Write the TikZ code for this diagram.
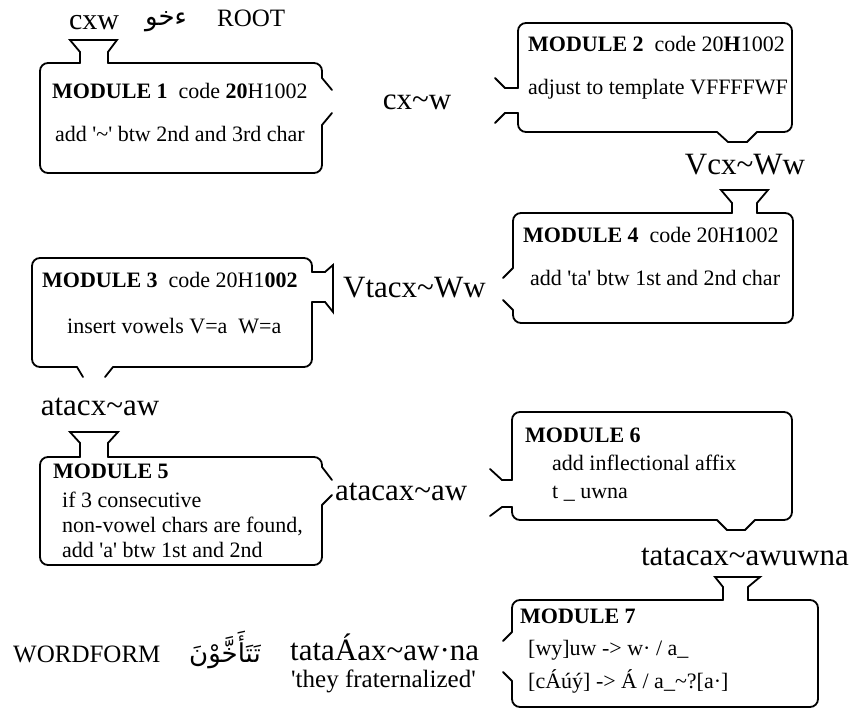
\documentclass[tikz,border=0pt]{standalone}
\usepackage{fontspec}
\newfontfamily\tnr{Liberation Serif}
\newfontfamily\arabicfont[Script=Arabic]{DejaVu Sans}
\TeXXeTstate=1
\tikzset{
  box/.style={line width=1.8pt, rounded corners=8pt, line cap=round, line join=round},
  port/.style={line width=1.8pt, line cap=round, line join=miter},
  mtxt/.style={font={\tnr\fontsize{22}{26}\selectfont}, anchor=base west, inner sep=0pt},
  big/.style={font={\tnr\fontsize{31}{36}\selectfont}, inner sep=0pt},
  mid/.style={font={\tnr\fontsize{25}{29}\selectfont}, inner sep=0pt},
  arab/.style={font={\arabicfont\fontsize{26}{30}\selectfont}, inner sep=0pt}
}
\begin{document}
\begin{tikzpicture}[x=1pt,y=-1pt]
\useasboundingbox (0,0) rectangle (853,711);
% ---------- Module 1
\draw[box] (322,125) -- (322,173) -- (40,173) -- (40,63) -- (80,63);
\draw[port] (80,63) -- (80,52) -- (70,40) -- (117,40) -- (108,52) -- (108,63);
\draw[box] (108,63) -- (322,63) -- (322,78);
\draw[port] (322,78) -- (332,90);
\draw[port] (332,113) -- (322,125);
% ---------- Module 2
\draw[box] (518,88) -- (518,23) -- (792,23) -- (792,132) -- (757,132);
\draw[port] (757,132) -- (747,142) -- (728,142) -- (717,132);
\draw[box] (717,132) -- (518,132) -- (518,113);
\draw[port] (518,88) -- (505,88) -- (495,78);
\draw[port] (518,113) -- (505,113) -- (495,123);
% ---------- Module 4
\draw[box] (757,213) -- (793,213) -- (793,323) -- (513,323) -- (513,310);
\draw[port] (513,310) -- (503,300);
\draw[port] (503,278) -- (513,268);
\draw[box] (513,268) -- (513,213) -- (732,213);
\draw[port] (732,213) -- (732,203) -- (721,190) -- (768,190) -- (757,203) -- (757,213);
% ---------- Module 3
\draw[box] (312,272) -- (312,258) -- (32,258) -- (32,367) -- (77,367);
\draw[port] (77,367) -- (83,377);
\draw[port] (105,377) -- (113,367);
\draw[box] (113,367) -- (312,367) -- (312,302);
\draw[port] (312,302) -- (325,302) -- (333,312) -- (333,265) -- (325,272) -- (312,272);
% ---------- Module 5
\draw[box] (322,505) -- (322,565) -- (40,565) -- (40,457) -- (80,457);
\draw[port] (80,457) -- (80,443) -- (70,432) -- (118,432) -- (108,443) -- (108,457);
\draw[box] (108,457) -- (322,457) -- (322,467);
\draw[port] (322,467) -- (332,480);
\draw[port] (332,495) -- (322,505);
% ---------- Module 6
\draw[box] (512,480) -- (512,412) -- (792,412) -- (792,520) -- (755,520);
\draw[port] (755,520) -- (745,530) -- (727,530) -- (717,520);
\draw[box] (717,520) -- (512,520) -- (512,507);
\draw[port] (512,480) -- (502,480) -- (490,469);
\draw[port] (512,507) -- (502,507) -- (490,516);
% ---------- Module 7
\draw[box] (748,600) -- (818,600) -- (818,707) -- (512,707) -- (512,681);
\draw[port] (512,681) -- (503,672);
\draw[port] (503,641) -- (512,632);
\draw[box] (512,632) -- (512,600) -- (723,600);
\draw[port] (723,600) -- (723,587) -- (715,577) -- (760,577) -- (748,587) -- (748,600);

% ---------- texts
\node[big, anchor=base, font={\tnr\fontsize{30}{34}\selectfont}] (cxw) at (94,30) {cxw};
\node[arab, anchor=base] (root) at (166,26) {\hbox{\beginR ءخو\endR}};
\node[mid, anchor=base west] (rootlbl) at (217,27) {ROOT};

\node[mtxt] (m1a) at (52,99) {\textbf{MODULE 1}\ \ code \textbf{20}H1002};
\node[mtxt] (m1b) at (55,142) {add '\textasciitilde' btw 2nd and 3rd char};

\node[big, anchor=base] (w1) at (417,110) {cx\textasciitilde w};

\node[mtxt] (m2a) at (528,52) {\textbf{MODULE 2}\ \ code 20\textbf{H}1002};
\node[mtxt] (m2b) at (528,95) {adjust to template VFFFFWF};

\node[big, anchor=base] (w2) at (745,175) {Vcx\textasciitilde Ww};

\node[mtxt] (m4a) at (523,243) {\textbf{MODULE 4}\ \ code 20H\textbf{1}002};
\node[mtxt] (m4b) at (530,285) {add 'ta' btw 1st and 2nd char};

\node[big, anchor=base west] (w3) at (343,297) {Vtacx\textasciitilde Ww};

\node[mtxt] (m3a) at (42,287) {\textbf{MODULE 3}\ \ code 20H1\textbf{002}};
\node[mtxt] (m3b) at (67,333) {insert vowels V=a\ \ W=a};

\node[big, anchor=base] (w4) at (100,415) {atacx\textasciitilde aw};

\node[mtxt] (m5a) at (53,478) {\textbf{MODULE 5}};
\node[mtxt] (m5b) at (62,507) {if 3 consecutive};
\node[mtxt] (m5c) at (62,532) {non-vowel chars are found,};
\node[mtxt] (m5d) at (62,557) {add 'a' btw 1st and 2nd};

\node[big, anchor=base west] (w5) at (335,500) {atacax\textasciitilde aw};

\node[mtxt] (m6a) at (525,442) {\textbf{MODULE 6}};
\node[mtxt] (m6b) at (552,470) {add inflectional affix};
\node[mtxt] (m6c) at (552,498) {t \_ uwna};

\node[big, anchor=base] (w6) at (745,565) {tatacax\textasciitilde awuwna};

\node[mtxt] (m7a) at (520,623) {\textbf{MODULE 7}};
\node[mtxt] (m7b) at (528,655) {[wy]uw -> w· / a\_};
\node[mtxt] (m7c) at (528,688) {[cÁúý] -> Á / a\_\textasciitilde?[a·]};

\node[mid, anchor=base west] (wf) at (13,662) {WORDFORM};
\node[arab, anchor=base] (wfar) at (225,662) {\hbox{\beginR تَتَأَخَّوْنَ\endR}};
\node[big, anchor=base west] (w7) at (290,660) {tataÁax\textasciitilde aw·na};
\node[mtxt, anchor=base west, font={\tnr\fontsize{25}{29}\selectfont}] (gloss) at (291,687) {'they fraternalized'};
\end{tikzpicture}
\end{document}
